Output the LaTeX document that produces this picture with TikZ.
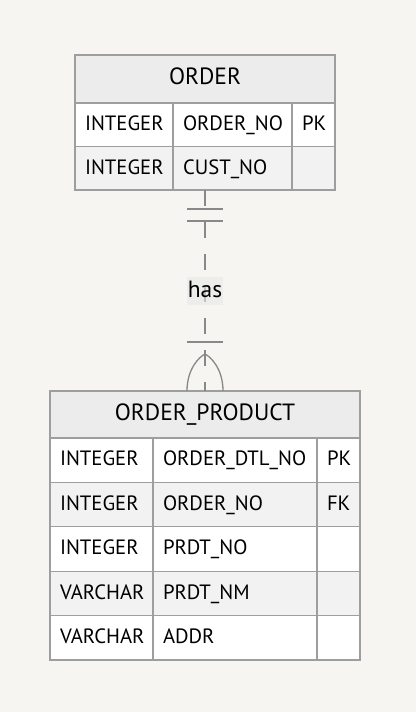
\documentclass[tikz,border=0pt]{standalone}
\usepackage{fontspec}
\setmainfont{PT Sans}
\usepackage{tikz}
\usetikzlibrary{positioning,fit}

\definecolor{bgcol}{HTML}{F6F5F1}
\definecolor{edgegray}{HTML}{9E9E9E}
\definecolor{hdrgray}{HTML}{ECECEC}
\definecolor{rowgray}{HTML}{F2F2F2}
\definecolor{relgray}{HTML}{888888}
\definecolor{lblgray}{HTML}{E8E8E8}

\begin{document}
\begin{tikzpicture}[
    x=1pt, y=-1pt,
    node distance=0pt,
    every node/.style={outer sep=0pt},
    hdr/.style={draw=edgegray, line width=1.2pt, fill=hdrgray, inner sep=0pt, text height=16.5pt, text depth=5pt, font=\fontsize{23.5}{27}\selectfont},
    cell/.style={draw=edgegray, line width=1.2pt, inner xsep=10pt, inner ysep=0pt, align=left, text height=14.5pt, text depth=3pt, font=\fontsize{20.7}{24}\selectfont},
    oddrow/.style={cell, fill=white},
    evenrow/.style={cell, fill=rowgray},
    rel/.style={draw=relgray, line width=1.3pt, dash pattern=on 16pt off 16pt},
    relmark/.style={draw=relgray, line width=1.3pt},
    lbl/.style={fill=lblgray, fill opacity=0.6, text opacity=1, inner xsep=1pt, inner ysep=0pt, minimum height=28pt, text height=17pt, text depth=5pt, font=\fontsize{23.5}{27}\selectfont},
]
    \useasboundingbox[fill=bgcol] (0,0) rectangle (416,712);

    % Table ORDER
    \node[hdr, anchor=north west, minimum width=260pt, minimum height=48pt] (ordhdr) at (75,55) {ORDER};
    \node[oddrow, anchor=north west, text width=78pt, minimum height=43.5pt] (ord1a) at (75,103) {INTEGER};
    \node[oddrow, right=of ord1a, text width=99pt, minimum height=43.5pt] (ord1b) {ORDER\_NO};
    \node[oddrow, right=of ord1b, text width=23pt, minimum height=43.5pt] (ord1c) {PK};
    \node[evenrow, below=of ord1a, text width=78pt, minimum height=43.5pt] (ord2a) {INTEGER};
    \node[evenrow, right=of ord2a, text width=99pt, minimum height=43.5pt] (ord2b) {CUST\_NO};
    \node[evenrow, right=of ord2b, text width=23pt, minimum height=43.5pt] (ord2c) {};
    \node[fit=(ordhdr)(ord2c), inner sep=0pt] (ordtbl) {};

    % Table ORDER_PRODUCT
    \node[hdr, anchor=north west, minimum width=310pt, minimum height=47pt] (prdhdr) at (50,391) {ORDER\_PRODUCT};
    \node[oddrow, anchor=north west, text width=83pt, minimum height=44.4pt] (prd1a) at (50,438) {INTEGER};
    \node[oddrow, right=of prd1a, text width=144pt, minimum height=44.4pt] (prd1b) {ORDER\_DTL\_NO};
    \node[oddrow, right=of prd1b, text width=23pt, minimum height=44.4pt] (prd1c) {PK};
    \node[evenrow, below=of prd1a, text width=83pt, minimum height=44.4pt] (prd2a) {INTEGER};
    \node[evenrow, right=of prd2a, text width=144pt, minimum height=44.4pt] (prd2b) {ORDER\_NO};
    \node[evenrow, right=of prd2b, text width=23pt, minimum height=44.4pt] (prd2c) {FK};
    \node[oddrow, below=of prd2a, text width=83pt, minimum height=44.4pt] (prd3a) {INTEGER};
    \node[oddrow, right=of prd3a, text width=144pt, minimum height=44.4pt] (prd3b) {PRDT\_NO};
    \node[oddrow, right=of prd3b, text width=23pt, minimum height=44.4pt] (prd3c) {};
    \node[evenrow, below=of prd3a, text width=83pt, minimum height=44.4pt] (prd4a) {VARCHAR};
    \node[evenrow, right=of prd4a, text width=144pt, minimum height=44.4pt] (prd4b) {PRDT\_NM};
    \node[evenrow, right=of prd4b, text width=23pt, minimum height=44.4pt] (prd4c) {};
    \node[oddrow, below=of prd4a, text width=83pt, minimum height=44.4pt] (prd5a) {VARCHAR};
    \node[oddrow, right=of prd5a, text width=144pt, minimum height=44.4pt] (prd5b) {ADDR};
    \node[oddrow, right=of prd5b, text width=23pt, minimum height=44.4pt] (prd5c) {};
    \node[fit=(prdhdr)(prd5c), inner sep=0pt] (prdtbl) {};

    % Relationship
    \draw[rel] (ordtbl.south) -- (prdtbl.north);
    \node[lbl] (has) at (205,291) {has};

    % exactly one at ORDER
    \draw[relmark] ([xshift=-18pt,yshift=-19pt]ordtbl.south) -- ([xshift=18pt,yshift=-19pt]ordtbl.south);
    \draw[relmark] ([xshift=-18pt,yshift=-31pt]ordtbl.south) -- ([xshift=18pt,yshift=-31pt]ordtbl.south);

    % one or many at ORDER_PRODUCT
    \draw[relmark] ([xshift=-18pt,yshift=49pt]prdtbl.north) -- ([xshift=18pt,yshift=49pt]prdtbl.north);
    \draw[relmark] ([xshift=-18pt]prdtbl.north) .. controls ([xshift=-18pt,yshift=22pt]prdtbl.north) and ([xshift=-6pt,yshift=34pt]prdtbl.north) .. ([yshift=37pt]prdtbl.north)
        .. controls ([xshift=6pt,yshift=34pt]prdtbl.north) and ([xshift=18pt,yshift=22pt]prdtbl.north) .. ([xshift=18pt]prdtbl.north);
\end{tikzpicture}
\end{document}
